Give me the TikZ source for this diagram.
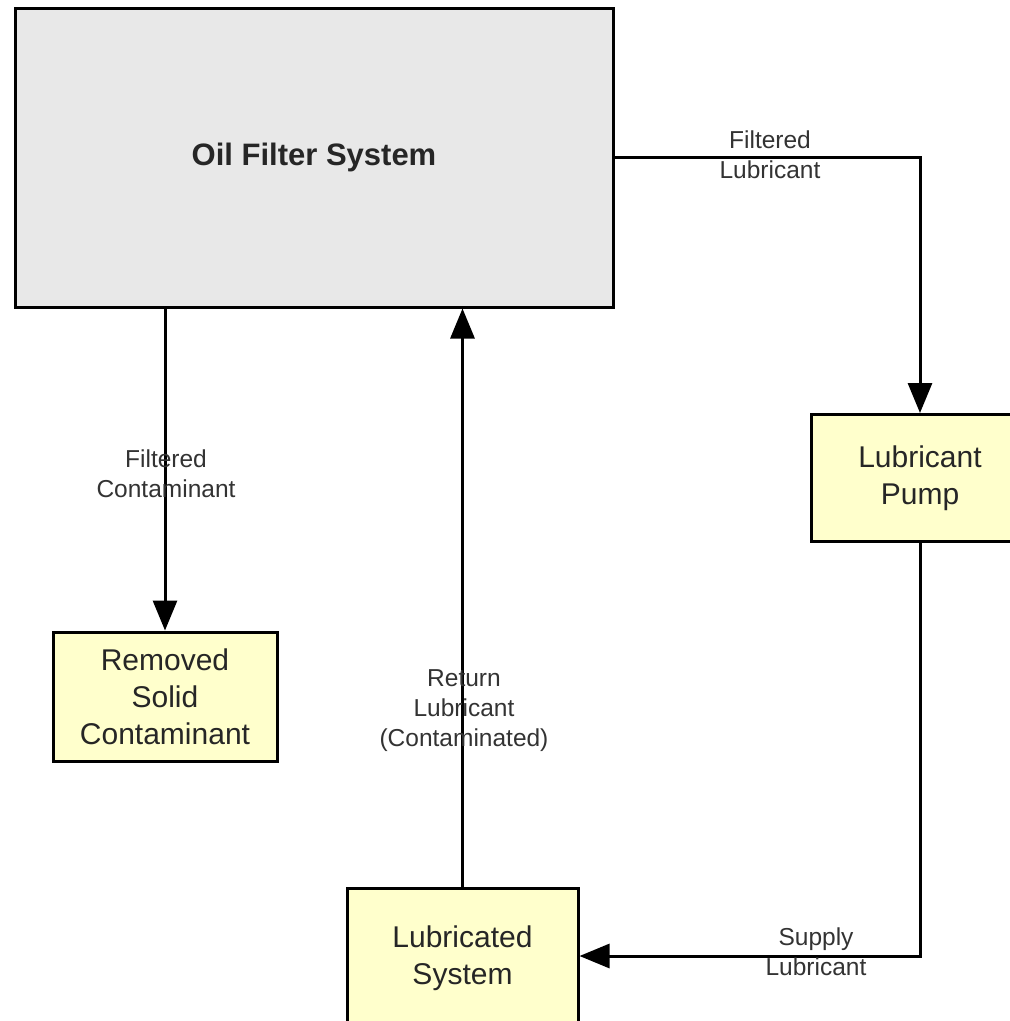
\documentclass[tikz,border=0pt]{standalone}
\usepackage{fontspec}
\setmainfont{Liberation Sans}
\usetikzlibrary{arrows.meta}
\definecolor{boxyellow}{HTML}{FFFFCC}
\definecolor{boxgray}{HTML}{E8E8E8}
\definecolor{labelgray}{HTML}{333333}
\begin{document}
\begin{tikzpicture}[x=1pt,y=-1pt,
  blockbox/.style={draw=black, line width=3pt, fill=boxyellow, rectangle, align=center,
    inner sep=0pt, font=\fontsize{30}{37}\selectfont, text=black!85},
  conn/.style={draw=black, line width=3pt, -{Triangle[length=30pt,width=24pt]}},
  flowlabel/.style={align=center, inner sep=0pt, font=\fontsize{24.5}{30}\selectfont, text=labelgray}]
\useasboundingbox (0,0) rectangle (1010,1021);
\fill[white] (0,0) rectangle (1010,1021);
\node[draw=black, line width=3pt, fill=boxgray, rectangle, inner sep=0pt,
  minimum width=598pt, minimum height=299pt,
  font=\fontsize{31}{37}\selectfont\bfseries, text=black!85] (oil) at (314,157.5) {Oil Filter System};
\node[blockbox, minimum width=218pt, minimum height=127pt] (pump) at (920,478) {Lubricant\\Pump};
\node[blockbox, minimum width=224pt, minimum height=129pt] (rem) at (165,696.5) {Removed\\Solid\\Contaminant};
\node[blockbox, minimum width=231pt, minimum height=140pt] (lub) at (462.5,958) {Lubricated\\System};
\draw[conn] (oil.east) -| (pump.north);
\draw[conn] (rem.north |- oil.south) -- (rem.north);
\draw[conn] (lub.north) -- (lub.north |- oil.south);
\draw[conn] (pump.south) |- (lub.east |- 0,956);
\node[flowlabel] (l1) at (770,155) {Filtered\\Lubricant};
\node[flowlabel] (l2) at (166,474) {Filtered\\Contaminant};
\node[flowlabel] (l3) at (464,711) {Return\\Lubricant\\(Contaminated)};
\node[flowlabel] (l4) at (816,952) {Supply\\Lubricant};
\end{tikzpicture}
\end{document}
